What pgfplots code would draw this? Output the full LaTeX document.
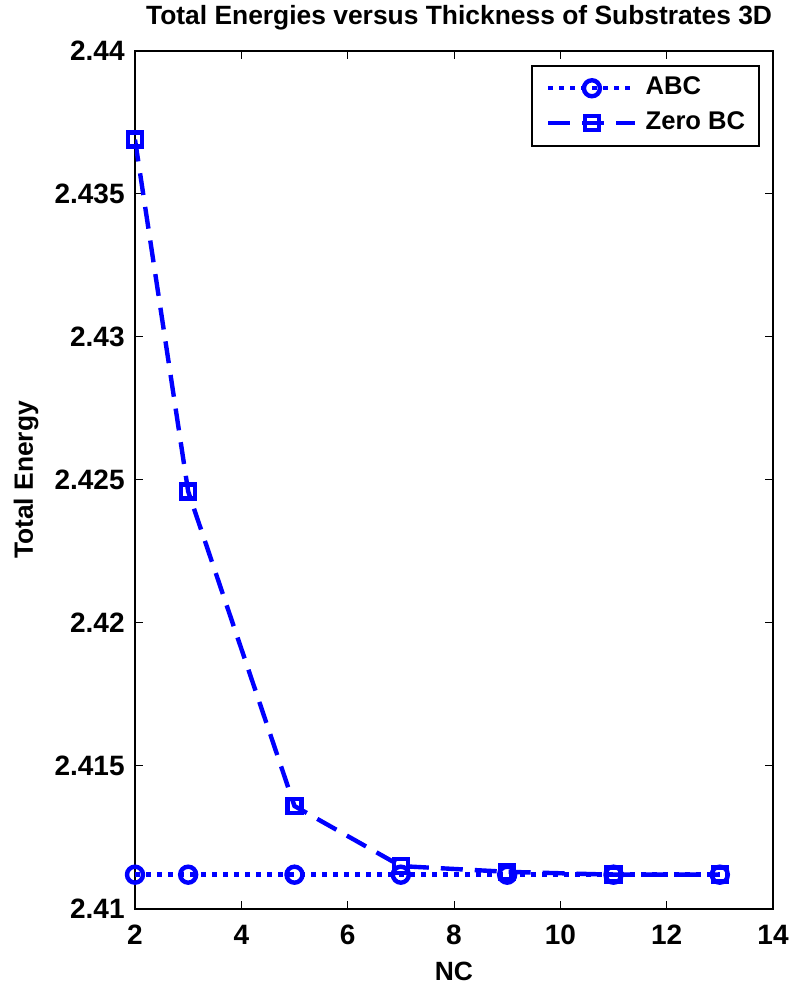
\documentclass[border=0pt]{standalone}
\usepackage{fontspec}
\setmainfont{Liberation Sans}
\usepackage{pgfplots}
\pgfplotsset{compat=1.18}
\begin{document}
\bfseries
\begin{tikzpicture}
\begin{axis}[
  name=ax,
  scale only axis,
  width=319pt, height=429pt,
  xmin=2, xmax=14, ymin=2.41, ymax=2.44,
  xtick={2,4,...,14},
  ytick={2.41,2.415,2.42,2.425,2.43,2.435,2.44},
  /pgf/number format/assume math mode=true,
  yticklabel style={/pgf/number format/fixed,/pgf/number format/precision=3, inner sep=0pt, xshift=-5pt},
  xticklabel style={inner sep=0pt, yshift=-8pt},
  tick align=inside,
  major tick length=4pt,
  tick style={black, line width=0.5pt},
  axis line style={line width=1pt},
  ticklabel style={font=\fontsize{14}{16}\selectfont\bfseries},
  every axis title shift=0pt,
  title={Total Energies versus Thickness of Substrates 3D},
  title style={font=\fontsize{13.2}{15}\selectfont\bfseries, at={(axis description cs:0.508,1.0303)}, anchor=base, inner sep=0pt},
  xlabel={NC}, ylabel={Total Energy},
  label style={font=\fontsize{13.2}{15}\selectfont\bfseries},
  xlabel style={at={(axis description cs:0.5,-0.0828)}, anchor=base, inner sep=0pt},
  ylabel style={at={(axis description cs:-0.160,0.5)}, anchor=base, inner sep=0pt},
  legend style={at={(axis description cs:0.9796,0.9837)}, anchor=north east, draw=black, line width=0.8pt,
    font=\fontsize{12.8}{15}\selectfont\bfseries, row sep=0pt, column sep=4pt,
    inner xsep=7pt, inner ysep=2.5pt,
    nodes={inner sep=0pt, text height=11.75pt, text depth=5.75pt}},
  legend cell align=left,
  legend image code/.code={\draw[mark repeat=2,mark phase=2] plot coordinates {(0pt,0pt) (21.75pt,0pt) (43.5pt,0pt)};},
]
\addplot[blue, line width=2.2pt, dash pattern=on 2.5pt off 3pt, mark=o, mark size=4pt,
  mark options={solid, line width=2.2pt}]
  coordinates {(2,2.4112) (3,2.4112) (5,2.4112) (7,2.4112) (9,2.4112) (11,2.4112) (13,2.4112)};
\addlegendentry{ABC}
\addplot[blue, line width=2.2pt, dash pattern=on 11pt off 6pt, mark=square, mark size=3.5pt,
  mark options={solid, line width=2.2pt}]
  coordinates {(2,2.4369) (3,2.4246) (5,2.4136) (7,2.4115) (9,2.4113) (11,2.4112) (13,2.4112)};
\addlegendentry{Zero BC}
\end{axis}
\pgfresetboundingbox
\path[use as bounding box] ([xshift=-67.5pt,yshift=-37.5pt]ax.south west) rectangle ([xshift=14.5pt,yshift=25.5pt]ax.north east);
\end{tikzpicture}
\end{document}
